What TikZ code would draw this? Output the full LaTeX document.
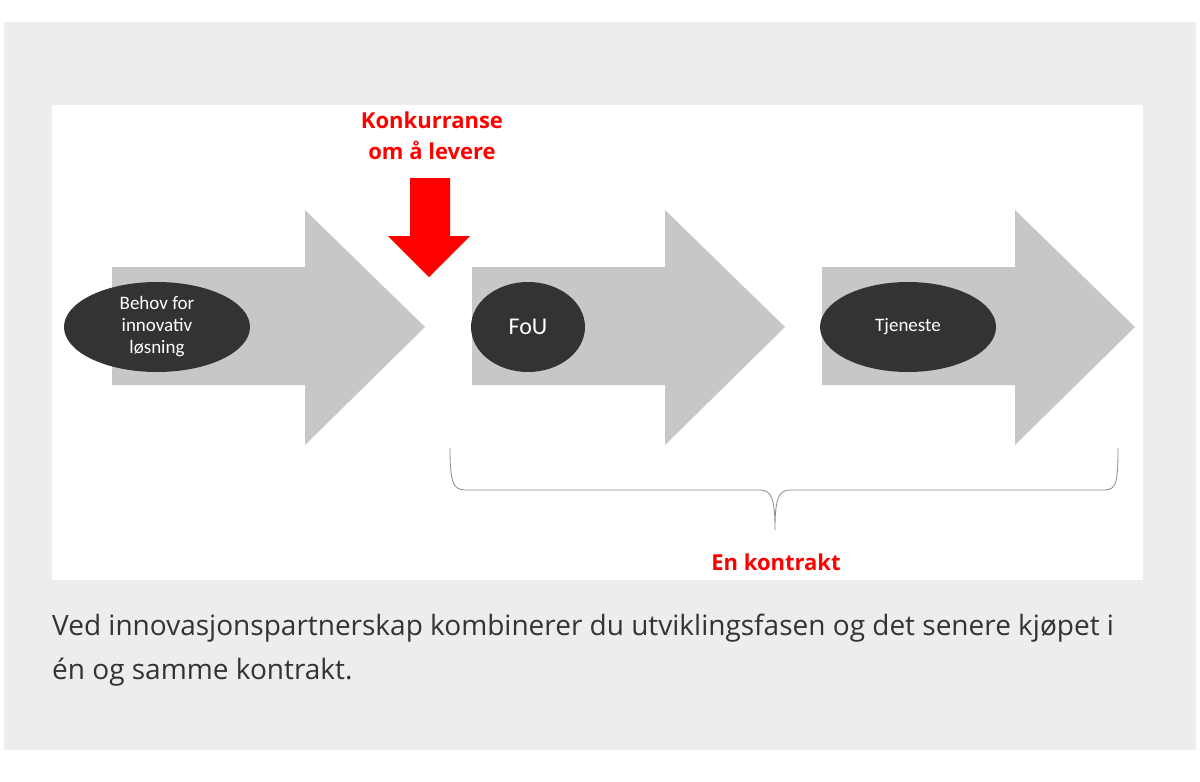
\documentclass[tikz,border=0pt]{standalone}
\usepackage{fontspec}
\usetikzlibrary{shapes.geometric}
\setmainfont{Open Sans}
\newfontfamily\carfont{Carlito}
\begin{document}
\begin{tikzpicture}[x=1pt,y=-1pt,
  bigarrow/.style={fill=black!22,draw=none},
  oval/.style={ellipse,fill=black!80,text=white,font=\carfont\fontsize{19}{22}\selectfont,align=center,inner sep=0pt},
  redtxt/.style={text=red,font=\bfseries\fontsize{22}{31}\selectfont,align=center}]
\useasboundingbox (0,0) rectangle (1200,782);
\fill[black!7] (4,22) rectangle (1196,750);
\fill[white] (52,105) rectangle (1143,580);
\foreach \x in {112,472,822}{
  \fill[bigarrow] (\x,267) -- (\x+193,267) -- (\x+193,210) -- (\x+313,327) -- (\x+193,445) -- (\x+193,385) -- (\x,385) -- cycle;}
\node[oval,minimum width=186,minimum height=90] (e1) at (157,327) {Behov for\\innovativ\\løsning};
\node[oval,minimum width=114,minimum height=90,font=\carfont\fontsize{24}{26}\selectfont] (e2) at (528,327) {FoU};
\node[oval,minimum width=176,minimum height=90] (e3) at (908,327) {Tjeneste};
\fill[red] (410,178) -- (450,178) -- (450,236) -- (470,236) -- (429,277) -- (388,236) -- (410,236) -- cycle;
\node[redtxt] (k) at (432,136) {Konkurranse\\om å levere};
\draw[black!45,line width=0.8] (450,448) .. controls (450,490) and (455,490) .. (470,490) -- (760,490) .. controls (772,490) and (775,500) .. (775,530) .. controls (775,500) and (778,490) .. (790,490) -- (1100,490) .. controls (1115,490) and (1118,490) .. (1118,448);
\node[redtxt] (c) at (776,562) {En kontrakt};
\node[anchor=north west,align=left,text=black!80,font=\fontsize{28}{44}\selectfont,inner sep=0pt] (cap) at (52,614) {Ved innovasjonspartnerskap kombinerer du utviklingsfasen og det senere kjøpet i\\én og samme kontrakt.};
\end{tikzpicture}
\end{document}
